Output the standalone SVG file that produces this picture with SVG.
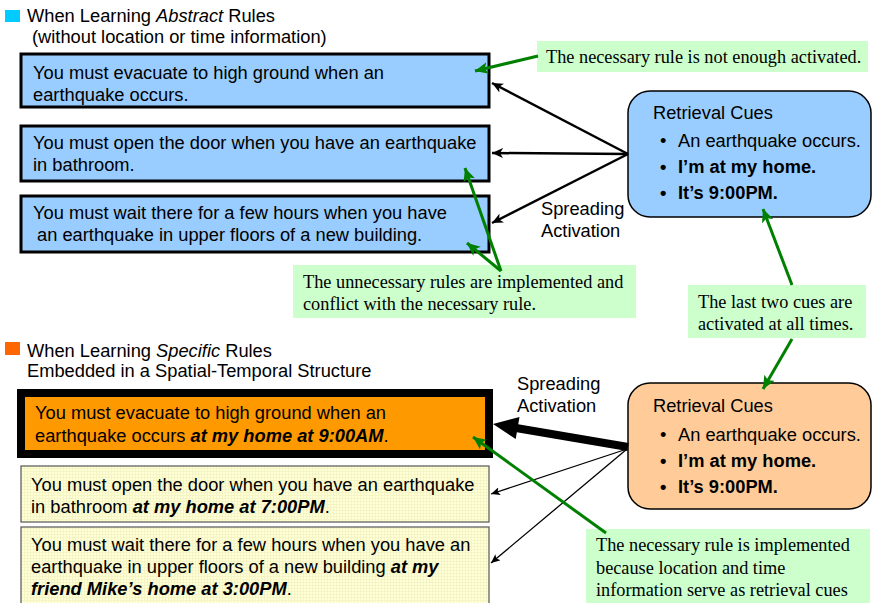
<svg xmlns="http://www.w3.org/2000/svg" width="873" height="603" viewBox="0 0 873 603">
<defs>
<style>
.t{font-family:"Liberation Sans",Arial,sans-serif;font-size:18.3px;fill:#000}
.s{font-family:"Liberation Serif","Times New Roman",serif;font-size:18.3px;fill:#000}
.b{font-weight:bold}
.bi{font-weight:bold;font-style:italic}
.i{font-style:italic}
.blue{fill:#99CCFF;stroke:#000;stroke-width:3}
.note{fill:#CCFFCC}
.ga{stroke:#008000;stroke-width:3;fill:none;marker-end:url(#ag)}
.ka{stroke:#000;stroke-width:2.5;fill:none;marker-end:url(#ak)}
.kt{stroke:#000;stroke-width:1.3;fill:none;marker-end:url(#akt)}
.yel{fill:url(#yp);stroke:#555;stroke-width:1.2}
</style>
<marker id="ag" markerUnits="userSpaceOnUse" markerWidth="14" markerHeight="12" refX="13" refY="6" orient="auto"><path d="M0,0 L13,6 L0,12 L3,6 z" fill="#008000"/></marker>
<marker id="ak" markerUnits="userSpaceOnUse" markerWidth="12" markerHeight="10" refX="11" refY="5" orient="auto"><path d="M0,0 L11,5 L0,10 L3,5 z" fill="#000"/></marker>
<marker id="akt" markerUnits="userSpaceOnUse" markerWidth="10" markerHeight="8" refX="9" refY="4" orient="auto"><path d="M0,0 L9,4 L0,8 L2,4 z" fill="#000"/></marker>
<pattern id="yp" patternUnits="userSpaceOnUse" width="3" height="3"><rect width="3" height="3" fill="#FFFFD8"/><rect width="3" height="1" fill="#F4F4C4"/><rect width="1" height="3" fill="#F4F4C4"/></pattern>
</defs>
<rect width="873" height="603" fill="#fff"/>

<g id="legend-abstract">
<rect x="5" y="10" width="15" height="12" fill="#00CCFF"/>
<text class="t" x="27" y="22">When Learning <tspan class="i">Abstract</tspan> Rules</text>
<text class="t" x="32" y="43">(without location or time information)</text>
</g>

<g id="rule-a1">
<rect class="blue" x="21" y="54" width="468" height="53"/>
<text class="t" x="33" y="79">You must evacuate to high ground when an</text>
<text class="t" x="33" y="101">earthquake occurs.</text>
</g>
<g id="rule-a2">
<rect class="blue" x="21" y="126" width="468" height="55"/>
<text class="t" x="33" y="149">You must open the door when you have an earthquake</text>
<text class="t" x="33" y="171">in bathroom.</text>
</g>
<g id="rule-a3">
<rect class="blue" x="21" y="196" width="468" height="56"/>
<text class="t" x="33" y="219">You must wait there for a few hours when you have</text>
<text class="t" x="37" y="241">an earthquake in upper floors of a new building.</text>
</g>

<g id="cues-top">
<rect x="628" y="91" width="243" height="126" rx="22" ry="22" fill="#99CCFF" stroke="#000" stroke-width="1.5"/>
<text class="t" x="653" y="119">Retrieval Cues</text>
<text class="t" x="660" y="147">•</text><text class="t" x="678" y="147">An earthquake occurs.</text>
<text class="t b" x="660" y="173">•</text><text class="t b" x="678" y="173">I’m at my home.</text>
<text class="t b" x="660" y="199">•</text><text class="t b" x="678" y="199">It’s 9:00PM.</text>
</g>

<g id="label-spread-top">
<text class="t" x="541" y="215">Spreading</text>
<text class="t" x="541" y="237">Activation</text>
</g>

<g id="note-1">
<rect class="note" x="537" y="41" width="331" height="31"/>
<text class="s" x="546" y="63">The necessary rule is not enough activated.</text>
</g>
<g id="note-2">
<rect class="note" x="293" y="265" width="343" height="53"/>
<text class="s" x="303" y="288">The unnecessary rules are implemented and</text>
<text class="s" x="303" y="310">conflict with the necessary rule.</text>
</g>
<g id="note-3">
<rect class="note" x="688" y="285" width="178" height="53"/>
<text class="s" x="698" y="308">The last two cues are</text>
<text class="s" x="698" y="330">activated at all times.</text>
</g>

<g id="legend-specific">
<rect x="5" y="342" width="15" height="13" fill="#FF6600"/>
<text class="t" x="27" y="357">When Learning <tspan class="i">Specific</tspan> Rules</text>
<text class="t" x="27" y="377">Embedded in a Spatial-Temporal Structure</text>
</g>

<g id="label-spread-bottom">
<text class="t" x="517" y="390">Spreading</text>
<text class="t" x="517" y="412">Activation</text>
</g>

<g id="rule-s1">
<rect x="21" y="393" width="468" height="61" fill="#FF9900" stroke="#000" stroke-width="8"/>
<text class="t" x="35" y="419">You must evacuate to high ground when an</text>
<text class="t" x="35" y="442">earthquake occurs <tspan class="bi">at my home at 9:00AM</tspan>.</text>
</g>
<g id="rule-s2">
<rect class="yel" x="21" y="466" width="468" height="56"/>
<text class="t" x="31" y="491">You must open the door when you have an earthquake</text>
<text class="t" x="31" y="513">in bathroom <tspan class="bi">at my home at 7:00PM</tspan>.</text>
</g>
<g id="rule-s3">
<rect class="yel" x="21" y="527" width="468" height="80"/>
<text class="t" x="31" y="551">You must wait there for a few hours when you have an</text>
<text class="t" x="31" y="573">earthquake in upper floors of a new building <tspan class="bi">at my</tspan></text>
<text class="t" x="31" y="595"><tspan class="bi">friend Mike’s home at 3:00PM</tspan>.</text>
</g>

<g id="cues-bottom">
<rect x="628" y="383" width="243" height="126" rx="22" ry="22" fill="#FFCC99" stroke="#000" stroke-width="1.5"/>
<text class="t" x="653" y="412">Retrieval Cues</text>
<text class="t" x="660" y="441">•</text><text class="t" x="678" y="441">An earthquake occurs.</text>
<text class="t b" x="660" y="467">•</text><text class="t b" x="678" y="467">I’m at my home.</text>
<text class="t b" x="660" y="493">•</text><text class="t b" x="678" y="493">It’s 9:00PM.</text>
</g>

<g id="note-4">
<rect class="note" x="586" y="529" width="284" height="74"/>
<text class="s" x="596" y="551">The necessary rule is implemented</text>
<text class="s" x="596" y="574">because location and time</text>
<text class="s" x="596" y="596">information serve as retrieval cues</text>
</g>

<g id="connectors">
<line class="ka" x1="628" y1="154" x2="492" y2="83"/>
<line class="ka" x1="628" y1="154" x2="492" y2="153"/>
<line class="ka" x1="628" y1="154" x2="492" y2="223"/>
<line x1="628" y1="447" x2="516" y2="428" stroke="#000" stroke-width="8"/>
<polygon points="493,424 519.5,417 515.7,439" fill="#000"/>
<line class="kt" x1="627" y1="449" x2="491" y2="494"/>
<line class="kt" x1="627" y1="449" x2="491" y2="563"/>
<line class="ga" x1="538" y1="56" x2="475" y2="71"/>
<line class="ga" x1="501" y1="271" x2="465" y2="168"/>
<line class="ga" x1="501" y1="271" x2="467" y2="243"/>
<line class="ga" x1="792" y1="285" x2="763" y2="209"/>
<line class="ga" x1="792" y1="339" x2="763" y2="389"/>
<line class="ga" x1="606" y1="533" x2="473" y2="437"/>
</g>
</svg>
